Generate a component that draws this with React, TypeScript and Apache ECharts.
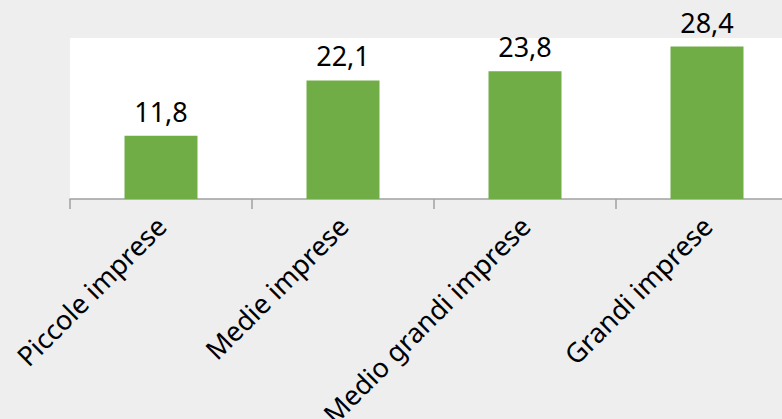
import React, { useEffect, useRef } from "react";
import * as echarts from "echarts";

const categories = ["Piccole imprese", "Medie imprese", "Medio grandi imprese", "Grandi imprese"];
const values = [11.8, 22.1, 23.8, 28.4];

export default function App() {
  const ref = useRef<HTMLDivElement>(null);
  useEffect(() => {
    if (!ref.current) return;
    const chart = echarts.init(ref.current, undefined, { renderer: "svg" });
    chart.setOption({
      animation: false,
      backgroundColor: "#EEEEEE",
      textStyle: { fontFamily: "Noto Sans" },
      grid: {
        left: 70,
        top: 38,
        right: 0,
        bottom: 220,
        show: true,
        backgroundColor: "#FFFFFF",
        borderWidth: 0,
        containLabel: false,
        outerBoundsMode: "none",
      },
      xAxis: {
        type: "category",
        data: categories,
        axisLine: { show: true, lineStyle: { color: "#A0A0A0", width: 1.5 } },
        axisTick: { show: true, length: 10, lineStyle: { color: "#A0A0A0", width: 1.5 } },
        axisLabel: {
          rotate: 45,
          fontSize: 27,
          color: "#000000",
          margin: 22,
          fontFamily: "Noto Sans",
        },
      },
      yAxis: {
        type: "value",
        min: 0,
        max: 30,
        show: false,
        splitLine: { show: false },
      },
      series: [
        {
          type: "bar",
          data: values,
          barWidth: 73,
          itemStyle: { color: "#70AD47" },
          label: {
            show: true,
            position: "top",
            distance: 11,
            fontSize: 27,
            color: "#000000",
            fontFamily: "Noto Sans",
            formatter: (p: any) => String(p.value).replace(".", ","),
          },
        },
      ],
    });
    return () => chart.dispose();
  }, []);
  return (
    <div
      style={{
        position: "absolute",
        left: 0,
        top: 0,
        width: 782,
        height: 419,
        overflow: "hidden",
        background: "#EEEEEE",
      }}
    >
      <div ref={ref} style={{ width: 798, height: 419 }} />
    </div>
  );
}
